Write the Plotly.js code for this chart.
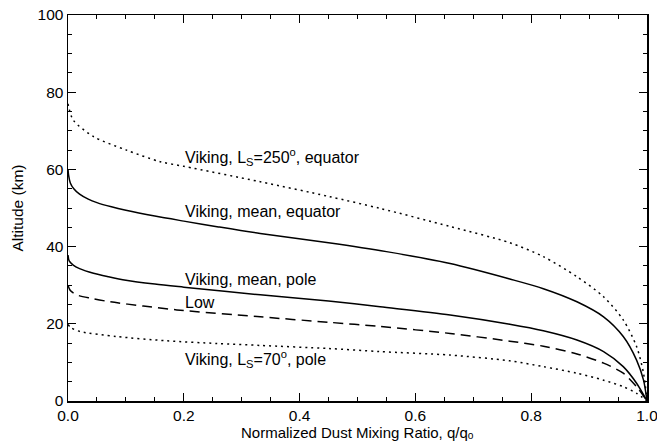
<!DOCTYPE html>
<html>
<head>
<meta charset="utf-8">
<script src="https://cdn.plot.ly/plotly-3.0.1.min.js"></script>
<style>html,body{margin:0;padding:0;background:#fff;}#chart{width:657px;height:441px;}</style>
</head>
<body>
<div id="chart"></div>
<script>
// Viking, Ls=250, equator (dotted)
const ls250EqX = [0, 0.009, 0.044, 0.101, 0.159, 0.2, 0.332, 0.45, 0.539, 0.660, 0.763, 0.821, 0.879, 0.925, 0.959, 0.982, 0.994, 1.0];
const ls250EqY = [77.0, 72.8, 68.5, 65.0, 62.0, 60.8, 56.8, 53.0, 49.9, 45.2, 41.0, 37.4, 32.2, 27.0, 21.0, 14.1, 7.2, 0];
// Viking, mean, equator (solid)
const meanEqX = [0, 0.001, 0.004, 0.01, 0.02, 0.035, 0.05, 0.075, 0.1, 0.15, 0.2, 0.26, 0.332, 0.45, 0.55, 0.66, 0.763, 0.821, 0.879, 0.925, 0.959, 0.982, 0.994, 1.0];
const meanEqY = [60.0, 58.5, 56.5, 55.0, 53.6, 52.3, 51.4, 50.3, 49.4, 47.9, 46.6, 45.1, 43.4, 41.0, 38.7, 35.6, 31.6, 29.1, 25.7, 21.8, 16.7, 10.6, 5.4, 0];
// Viking, mean, pole (solid)
const meanPoleX = [0, 0.002, 0.009, 0.02, 0.044, 0.07, 0.1, 0.15, 0.2, 0.332, 0.45, 0.539, 0.660, 0.763, 0.821, 0.879, 0.925, 0.959, 0.982, 1.0];
const meanPoleY = [37.8, 36.3, 35.2, 34.3, 33.1, 32.2, 31.3, 30.3, 29.5, 27.5, 25.9, 24.4, 22.3, 19.9, 18.2, 15.8, 12.8, 8.9, 4.6, 0];
// Low (dashed)
const lowX = [0, 0.004, 0.015, 0.04, 0.073, 0.13, 0.188, 0.332, 0.45, 0.539, 0.660, 0.763, 0.821, 0.879, 0.925, 0.959, 0.982, 1.0];
const lowY = [30.0, 28.6, 27.5, 26.6, 25.7, 24.6, 23.6, 21.8, 20.4, 19.3, 17.5, 15.5, 14.2, 12.2, 9.8, 7.2, 3.7, 0];
// Viking, Ls=70, pole (dotted)
const ls70PoleX = [0, 0.005, 0.021, 0.084, 0.17, 0.257, 0.332, 0.45, 0.539, 0.660, 0.763, 0.821, 0.879, 0.925, 0.959, 0.982, 1.0];
const ls70PoleY = [19.8, 19.0, 18.0, 16.7, 15.6, 14.9, 14.4, 13.6, 12.8, 11.9, 10.4, 8.9, 7.2, 5.4, 3.7, 2.0, 0];

const curveLabels = [
  "Viking, L<sub>S</sub>=250<sup>o</sup>, equator",
  "Viking, mean, equator",
  "Viking, mean, pole",
  "Low",
  "Viking, L<sub>S</sub>=70<sup>o</sup>, pole"
];
const labelX = [0.199, 0.199, 0.199, 0.199, 0.199];
const labelY = [63.2, 49.0, 31.6, 25.6, 10.9];

const xTickVals = [0, 0.2, 0.4, 0.6, 0.8, 1.0];
const yTickVals = [0, 20, 40, 60, 80, 100];
const xTitle = "Normalized Dust Mixing Ratio, q/q\u2092";
const yTitle = "Altitude (km)";

const FONT = "Liberation Sans, Arial, Helvetica, sans-serif";
const dotDash = "2px,4px";
function tr(x, y, dash) {
  return {x: x, y: y, type: "scatter", mode: "lines",
    line: {color: "#000", width: 1.5, dash: dash, shape: "spline", smoothing: 0.8},
    showlegend: false, hoverinfo: "skip"};
}
const data = [
  tr(ls250EqX, ls250EqY, dotDash),
  tr(meanEqX, meanEqY, "solid"),
  tr(meanPoleX, meanPoleY, "solid"),
  tr(lowX, lowY, "10px,6px"),
  tr(ls70PoleX, ls70PoleY, dotDash)
];

const annotations = curveLabels.map((t, i) => ({
  text: t, x: labelX[i], y: labelY[i], xref: "x", yref: "y",
  xanchor: "left", yanchor: "middle", showarrow: false,
  font: {family: FONT, size: 16, color: "#000"}
}));
annotations.push({
  text: xTitle, x: 0.5, y: -0.082, xref: "paper", yref: "paper",
  xanchor: "center", yanchor: "middle", showarrow: false,
  font: {family: FONT, size: 15, color: "#000"}
});

const axisCommon = {
  showgrid: false, zeroline: false, showline: true, linecolor: "#000", linewidth: 1.5,
  mirror: "allticks", ticks: "inside", ticklen: 8, tickwidth: 1, tickcolor: "#000",
  ticklabeloverflow: "allow",
  tickfont: {family: FONT, size: 15.5, color: "#000"}
};

const layout = {
  width: 657, height: 441,
  margin: {l: 68, r: 10, t: 15, b: 40},
  paper_bgcolor: "#fff", plot_bgcolor: "#fff",
  font: {family: FONT, color: "#000"},
  xaxis: Object.assign({}, axisCommon, {
    range: [0, 1], tickvals: xTickVals, tickformat: ".1f", ticklabelstandoff: 0,
    minor: {dtick: 0.05, ticks: "inside", ticklen: 4, tickcolor: "#000", tickwidth: 1}
  }),
  yaxis: Object.assign({}, axisCommon, {
    range: [0, 100], tickvals: yTickVals,
    minor: {dtick: 5, ticks: "inside", ticklen: 4, tickcolor: "#000", tickwidth: 1},
    title: {text: yTitle, font: {family: FONT, size: 15.5, color: "#000"}, standoff: 10}
  }),
  annotations: annotations
};

Plotly.newPlot("chart", data, layout, {staticPlot: true, displayModeBar: false});
</script>
</body>
</html>
